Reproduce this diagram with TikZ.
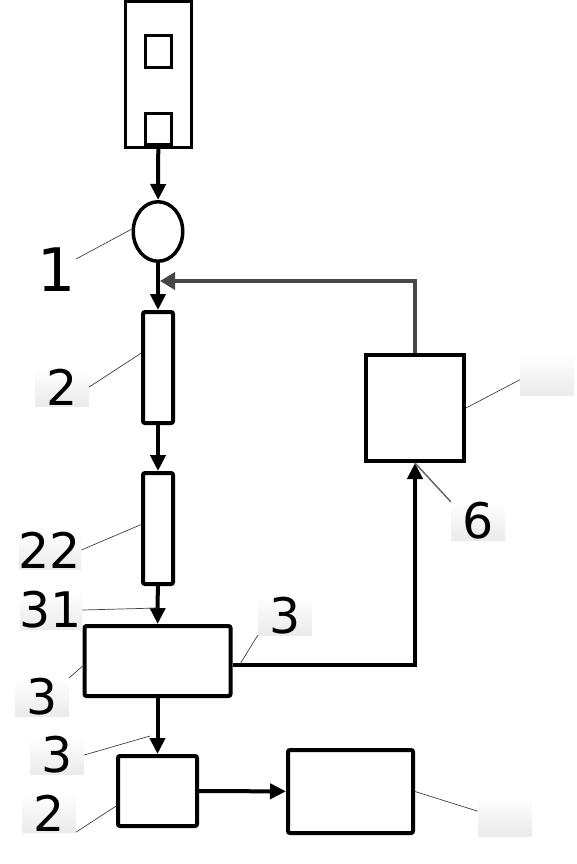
\documentclass[tikz,border=0pt]{standalone}
\usepackage{fontspec}
\setmainfont{DejaVu Sans}
\usetikzlibrary{arrows.meta,shapes.geometric}

\begin{document}
\begin{tikzpicture}[x=1pt, y=-1pt,
  unit/.style={draw, line width=4pt, rounded corners=2pt, inner sep=0pt},
  flow/.style={line width=4pt, -{Triangle[length=16pt,width=15pt]}},
  back/.style={draw=black!72, line width=3.5pt, -{Triangle[length=15pt,width=17pt]}},
  tag/.style={top color=white, bottom color=black!8, inner sep=0pt, minimum width=54pt, minimum height=38pt, font=\fontsize{49}{49}\selectfont},
  lead/.style={draw=black!75, line width=0.7pt}]
\useasboundingbox (0,0) rectangle (577,864);

\node[draw, line width=3pt, minimum width=66pt, minimum height=146pt, inner sep=0pt] (feeder) at (158.5,74.5) {};
\node[draw, line width=2.5pt, minimum width=26pt, minimum height=32pt, inner sep=0pt] (sqa) at (158.5,51.5) {};
\node[draw, line width=2.5pt, minimum width=26pt, minimum height=31pt, inner sep=0pt] (sqb) at (158.5,129) {};
\node[draw, ellipse, line width=3.5pt, minimum width=49.5pt, minimum height=59.5pt, inner sep=0pt] (pump) at (158,231.5) {};
\node[unit, minimum width=30pt, minimum height=111pt] (col) at (158,367.5) {};
\node[unit, minimum width=30pt, minimum height=111pt] (colb) at (158,528.5) {};
\node[unit, minimum width=146pt, minimum height=70pt] (tank) at (157.5,661) {};
\node[unit, minimum width=79pt, minimum height=70pt] (small) at (157.5,791) {};
\node[unit, rounded corners=0pt, minimum width=98pt, minimum height=106pt] (recyc) at (415,408) {};
\node[unit, minimum width=125pt, minimum height=83pt] (outlet) at (350.5,791.5) {};

\draw[flow] (feeder) -- (pump);
\draw[flow] (pump) -- (col);
\draw[flow] (col) -- (colb);
\draw[flow] (colb) -- (tank);
\draw[flow] (tank) -- (small);
\draw[flow] (small) -- (outlet);
\draw[flow] (tank.-3) -| (recyc.south);
\coordinate (join) at (160,281);
\draw[back] (recyc.north) |- (join);

\node[inner sep=0pt, font=\fontsize{60}{60}\selectfont] (lone) at (57,270) {1};
\node[tag] (ltwo) at (62,387) {2};
\node[tag] (ltt) at (50,550) {22};
\node[tag] (ltho) at (51,610) {31};
\node[tag] (lthr) at (285,616) {3};
\node[tag] (lthl) at (42,697) {3};
\node[tag] (lthd) at (57,755) {3};
\node[tag] (ltwb) at (49,813) {2};
\node[tag] (lsix) at (478,521) {6};
\node[tag, minimum height=40pt] (lrec) at (547,375) {};
\node[tag, minimum height=40pt] (lout) at (505,816) {};

\coordinate (pto) at (158,608);
\coordinate (pthr) at (240,664);
\coordinate (pthd) at (150,736);

\draw[lead] (lone.30) -- (pump.175);
\draw[lead] (ltwo.east) -- (col.140);
\draw[lead] (ltt.east) -- (colb.167);
\draw[lead] (ltho.east) -- (pto);
\draw[lead] (lthr.south west) -- (pthr);
\draw[lead] (lthl.north east) -- (tank.184);
\draw[lead] (lthd.east) -- (pthd);
\draw[lead] (ltwb.-35) -- (small.200);
\draw[draw=black!60, line width=1.5pt] (lsix.north west) -- (recyc.south);
\draw[lead] (lrec.190) -- (recyc.east);
\draw[lead] (lout.170) -- (outlet.east);
\end{tikzpicture}
\end{document}
